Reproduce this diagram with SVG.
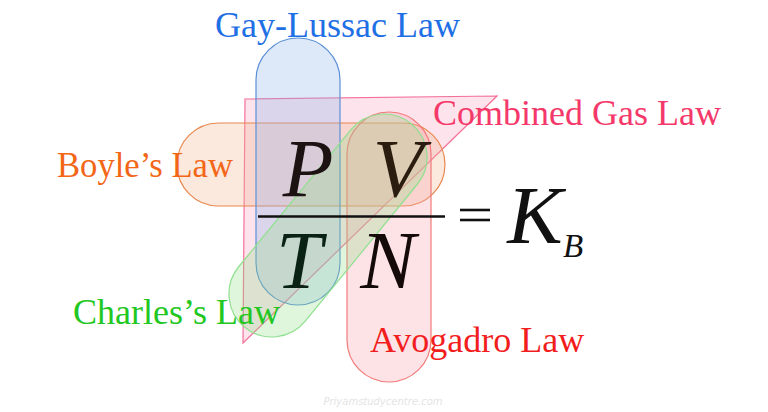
<svg xmlns="http://www.w3.org/2000/svg" width="768" height="412" viewBox="0 0 768 412">
<style>
.lbl{font-family:"Liberation Serif","Times New Roman",serif;font-size:36px}
.m{font-family:"Liberation Serif","Times New Roman",serif;font-style:italic;fill:#111}
.sh{stroke-width:1.2}
</style>
<rect width="768" height="412" fill="#ffffff"/>
<g id="combined-gas-law">
<polygon class="sh" points="245,99 497,96 243,343" fill="#f8a2c0" fill-opacity="0.3" stroke="#f47099"/>
<text class="lbl" x="433" y="125" fill="#f5386a">Combined Gas Law</text>
</g>
<g id="boyles-law">
<rect class="sh" x="177" y="123" width="268" height="83" rx="41.5" fill="#f2b68e" fill-opacity="0.3" stroke="#e8884e"/>
<text class="lbl" x="57" y="177" font-size="34" textLength="176" lengthAdjust="spacingAndGlyphs" fill="#f36617">Boyle’s Law</text>
</g>
<g id="gay-lussac-law">
<rect class="sh" x="256" y="38" width="84" height="267" rx="42" fill="#8fb7e8" fill-opacity="0.3" stroke="#5b8fd6"/>
<text class="lbl" x="215" y="37" font-size="35.5" fill="#1f6fe5">Gay-Lussac Law</text>
</g>
<g id="avogadro-law">
<rect class="sh" x="347" y="112" width="84" height="270" rx="42" fill="#f8a2ad" fill-opacity="0.3" stroke="#f27a7a"/>
<text class="lbl" x="370" y="352" fill="#f21d1d">Avogadro Law</text>
</g>
<g id="charles-law">
<rect class="sh" x="-131.5" y="-43" width="263" height="86" rx="43" transform="translate(328,225.5) rotate(-50.7)" fill="#94de8a" fill-opacity="0.3" stroke="#8fe08f"/>
<text class="lbl" x="73" y="324" fill="#22c722">Charles’s Law</text>
</g>
<g id="equation">
<text class="m" x="308" y="196" font-size="83" text-anchor="middle" style="fill:#1c1212">P</text>
<text class="m" x="398" y="196" font-size="83" text-anchor="middle" style="fill:#2a1c0e">V</text>
<line x1="258" y1="216.5" x2="445" y2="216.5" stroke="#111" stroke-width="2.6"/>
<text class="m" x="299" y="288" font-size="83" text-anchor="middle" style="fill:#0a2214">T</text>
<text class="m" x="388" y="288" font-size="83" text-anchor="middle" style="fill:#140a0a">N</text>
<line x1="460" y1="210" x2="490" y2="210" stroke="#111" stroke-width="2.6"/>
<line x1="460" y1="220" x2="490" y2="220" stroke="#111" stroke-width="2.6"/>
<text class="m" x="535" y="243" font-size="83" text-anchor="middle">K</text>
<text class="m" x="563" y="257" font-size="33">B</text>
</g>
<text x="383" y="405" text-anchor="middle" font-family="DejaVu Sans, sans-serif" font-size="10" font-style="italic" fill="#e4e4e4">Priyamstudycentre.com</text>
</svg>
